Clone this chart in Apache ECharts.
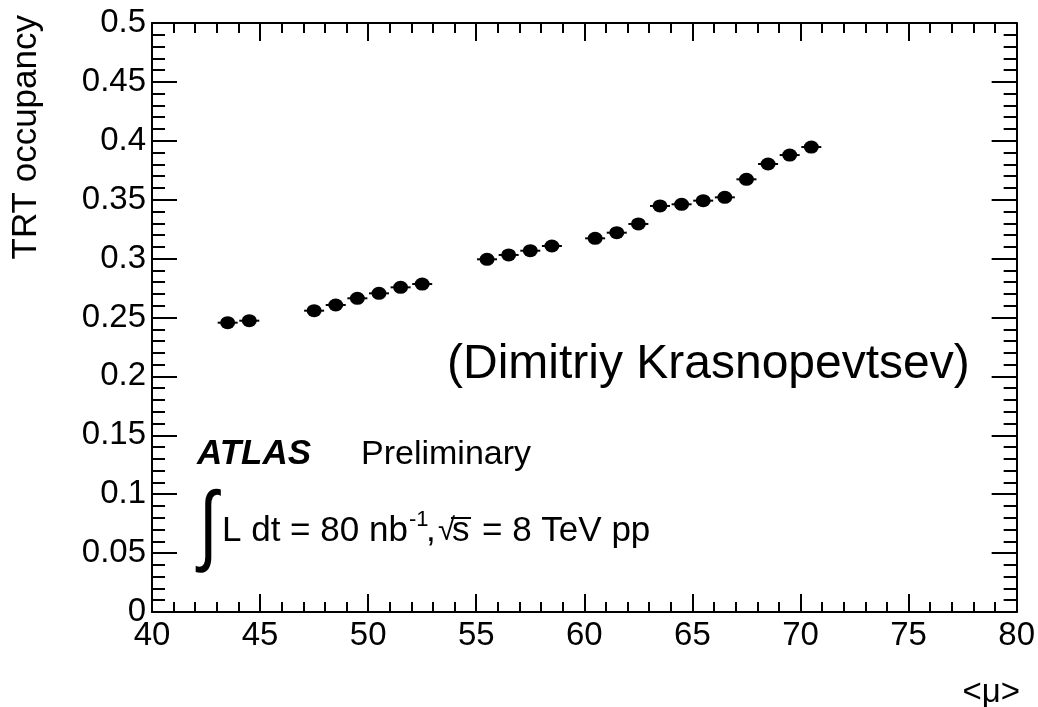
<!DOCTYPE html>
<html>
<head>
<meta charset="utf-8">
<script src="https://cdn.jsdelivr.net/npm/echarts@6/dist/echarts.min.js"></script>
<style>
html,body{margin:0;padding:0;background:#fff;}
#chart{width:1038px;height:707px;}
</style>
</head>
<body>
<div id="chart"></div>
<script>
// ---- data ----
var mu = [43.5, 44.5, 47.5, 48.5, 49.5, 50.5, 51.5, 52.5, 55.5, 56.5, 57.5, 58.5,
          60.5, 61.5, 62.5, 63.5, 64.5, 65.5, 66.5, 67.5, 68.5, 69.5, 70.5];
var occupancy = [0.2456, 0.2473, 0.2558, 0.2606, 0.2663, 0.2705, 0.2756, 0.2784,
                 0.2994, 0.3031, 0.3067, 0.3107, 0.3172, 0.3220, 0.3294, 0.3447,
                 0.3461, 0.3492, 0.3520, 0.3673, 0.3803, 0.3879, 0.3947];
var xTitle = '<\u03bc>';
var yTitle = 'TRT occupancy';
var credit = '(Dimitriy Krasnopevtsev)';

var points = mu.map(function (m, i) { return [m, occupancy[i]]; });

var FONT = '"Liberation Sans", Arial, Helvetica, sans-serif';
var chart = echarts.init(document.getElementById('chart'), null, {renderer: 'canvas'});

function xAx(pos, showLabel) {
  return {
    type: 'value', position: pos, min: 40, max: 80, interval: 5,
    axisLine: {show: true, onZero: false, lineStyle: {color: '#000', width: 2}},
    axisTick: {show: true, inside: true, length: 18, lineStyle: {color: '#000', width: 2}},
    minorTick: {show: true, splitNumber: 5, length: 10, lineStyle: {color: '#000', width: 2}},
    splitLine: {show: false}, minorSplitLine: {show: false},
    axisLabel: {show: showLabel, color: '#000', fontFamily: FONT, fontSize: 33, margin: 7}
  };
}
function yAx(pos, showLabel) {
  return {
    type: 'value', position: pos, min: 0, max: 0.5, interval: 0.05,
    axisLine: {show: true, onZero: false, lineStyle: {color: '#000', width: 2}},
    axisTick: {show: true, inside: true, length: 25, lineStyle: {color: '#000', width: 2}},
    minorTick: {show: true, splitNumber: 5, length: 13, lineStyle: {color: '#000', width: 2}},
    splitLine: {show: false}, minorSplitLine: {show: false},
    axisLabel: {show: showLabel, color: '#000', fontFamily: FONT, fontSize: 33, margin: 6}
  };
}

var option = {
  backgroundColor: '#fff',
  animation: false,
  grid: {left: 152, top: 23, right: 19, bottom: 95, containLabel: false},
  xAxis: [xAx('bottom', true), xAx('top', false)],
  yAxis: [yAx('left', true), yAx('right', false)],
  series: [
    {
      type: 'scatter', xAxisIndex: 0, yAxisIndex: 0, data: points,
      symbol: 'rect', symbolSize: [20, 2], itemStyle: {color: '#000', opacity: 1}, silent: true, z: 2
    },
    {
      type: 'scatter', xAxisIndex: 0, yAxisIndex: 0, data: points,
      symbol: 'circle', symbolSize: [15, 13], itemStyle: {color: '#000', opacity: 1}, z: 3
    }
  ],
  graphic: [
    {type: 'text', left: 447, top: 341, style: {text: credit, font: '48px ' + FONT, fill: '#000'}},
    {type: 'text', left: 197, top: 437, style: {text: 'ATLAS', font: 'italic bold 35px ' + FONT, fill: '#000'}},
    {type: 'text', left: 361, top: 438, style: {text: 'Preliminary', font: '34px ' + FONT, fill: '#000'}},
    {type: 'text', x: 199, y: 485, scaleX: 0.85, scaleY: 1.11,
     style: {text: '\u222b', font: '80px ' + FONT, fill: '#000', align: 'left', verticalAlign: 'top'}},
    {type: 'text', left: 222, top: 514, style: {text: 'L dt = 80 nb', font: '35px ' + FONT, fill: '#000'}},
    {type: 'text', left: 409, top: 509, style: {text: '-1', font: '22px ' + FONT, fill: '#000'}},
    {type: 'text', left: 426, top: 514, style: {text: ',', font: '35px ' + FONT, fill: '#000'}},
    {type: 'text', left: 438, top: 516, style: {text: '\u221a', font: '31px ' + FONT, fill: '#000'}},
    {type: 'text', left: 452, top: 514, style: {text: 's', font: '35px ' + FONT, fill: '#000'}},
    {type: 'text', left: 482, top: 514, style: {text: '= 8 TeV pp', font: '35px ' + FONT, fill: '#000'}},
    {type: 'line', shape: {x1: 451, y1: 518, x2: 471, y2: 518}, style: {stroke: '#000', lineWidth: 2}},
    {type: 'text', right: 18, top: 676, style: {text: xTitle, font: '33px ' + FONT, fill: '#000'}},
    {type: 'text', x: 26, y: 15, rotation: Math.PI / 2,
     style: {text: yTitle, font: '35px ' + FONT, fill: '#000', align: 'right', verticalAlign: 'middle'}}
  ]
};
chart.setOption(option);
</script>
</body>
</html>
